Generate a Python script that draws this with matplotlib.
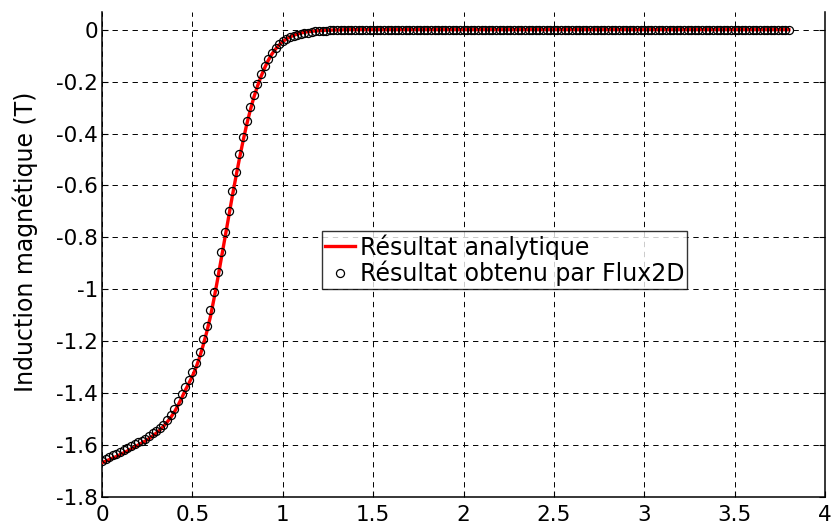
import numpy as np
import matplotlib
matplotlib.use("Agg")
import matplotlib.pyplot as plt

# x positions of samples (0 to 3.8 step 0.02)
x_vals = np.round(np.arange(0, 3.8001, 0.02), 2)

flux2d = [
    -1.660, -1.654, -1.647, -1.640, -1.634, -1.627, -1.620, -1.612, -1.604, -1.597,
    -1.590, -1.583, -1.575, -1.565, -1.555, -1.544, -1.533, -1.521, -1.503, -1.484,
    -1.460, -1.432, -1.404, -1.376, -1.350, -1.320, -1.285, -1.240, -1.193, -1.140,
    -1.080, -1.010, -0.935, -0.858, -0.780, -0.700, -0.622, -0.548, -0.478, -0.413,
    -0.352, -0.298, -0.250, -0.208, -0.172, -0.140, -0.113, -0.090, -0.072, -0.057,
    -0.045, -0.036, -0.029, -0.024, -0.020, -0.016, -0.013, -0.011, -0.009, -0.007,
    -0.006, -0.005, -0.004, -0.003, -0.002, -0.002, -0.001, -0.001, -0.001, 0.0,
    0.0, 0.0, 0.0, 0.0, 0.0, 0.0, 0.0, 0.0, 0.0, 0.0,
    0.0, 0.0, 0.0, 0.0, 0.0, 0.0, 0.0, 0.0, 0.0, 0.0,
    0.0, 0.0, 0.0, 0.0, 0.0, 0.0, 0.0, 0.0, 0.0, 0.0,
    0.0, 0.0, 0.0, 0.0, 0.0, 0.0, 0.0, 0.0, 0.0, 0.0,
    0.0, 0.0, 0.0, 0.0, 0.0, 0.0, 0.0, 0.0, 0.0, 0.0,
    0.0, 0.0, 0.0, 0.0, 0.0, 0.0, 0.0, 0.0, 0.0, 0.0,
    0.0, 0.0, 0.0, 0.0, 0.0, 0.0, 0.0, 0.0, 0.0, 0.0,
    0.0, 0.0, 0.0, 0.0, 0.0, 0.0, 0.0, 0.0, 0.0, 0.0,
    0.0, 0.0, 0.0, 0.0, 0.0, 0.0, 0.0, 0.0, 0.0, 0.0,
    0.0, 0.0, 0.0, 0.0, 0.0, 0.0, 0.0, 0.0, 0.0, 0.0,
    0.0, 0.0, 0.0, 0.0, 0.0, 0.0, 0.0, 0.0, 0.0, 0.0,
    0.0, 0.0, 0.0, 0.0, 0.0, 0.0, 0.0, 0.0, 0.0, 0.0,
    0.0,
]

analytic = [
    -1.668, -1.662, -1.656, -1.650, -1.644, -1.637, -1.630, -1.623, -1.615, -1.608,
    -1.600, -1.592, -1.584, -1.575, -1.565, -1.554, -1.542, -1.528, -1.512, -1.494,
    -1.473, -1.448, -1.420, -1.390, -1.363, -1.335, -1.302, -1.262, -1.215, -1.163,
    -1.105, -1.035, -0.960, -0.882, -0.804, -0.724, -0.645, -0.570, -0.498, -0.430,
    -0.367, -0.311, -0.261, -0.218, -0.180, -0.147, -0.118, -0.094, -0.075, -0.059,
    -0.046, -0.036, -0.028, -0.022, -0.017, -0.013, -0.010, -0.008, -0.006, -0.005,
    -0.004, -0.003, -0.002, -0.002, -0.001, -0.001, -0.001, 0.0, 0.0, 0.0,
    0.0, 0.0, 0.0, 0.0, 0.0, 0.0, 0.0, 0.0, 0.0, 0.0,
    0.0, 0.0, 0.0, 0.0, 0.0, 0.0, 0.0, 0.0, 0.0, 0.0,
    0.0, 0.0, 0.0, 0.0, 0.0, 0.0, 0.0, 0.0, 0.0, 0.0,
    0.0, 0.0, 0.0, 0.0, 0.0, 0.0, 0.0, 0.0, 0.0, 0.0,
    0.0, 0.0, 0.0, 0.0, 0.0, 0.0, 0.0, 0.0, 0.0, 0.0,
    0.0, 0.0, 0.0, 0.0, 0.0, 0.0, 0.0, 0.0, 0.0, 0.0,
    0.0, 0.0, 0.0, 0.0, 0.0, 0.0, 0.0, 0.0, 0.0, 0.0,
    0.0, 0.0, 0.0, 0.0, 0.0, 0.0, 0.0, 0.0, 0.0, 0.0,
    0.0, 0.0, 0.0, 0.0, 0.0, 0.0, 0.0, 0.0, 0.0, 0.0,
    0.0, 0.0, 0.0, 0.0, 0.0, 0.0, 0.0, 0.0, 0.0, 0.0,
    0.0, 0.0, 0.0, 0.0, 0.0, 0.0, 0.0, 0.0, 0.0, 0.0,
    0.0, 0.0, 0.0, 0.0, 0.0, 0.0, 0.0, 0.0, 0.0, 0.0,
    0.0,
]

xticks = [0, 0.5, 1, 1.5, 2, 2.5, 3, 3.5, 4]
xtick_labels = ["0", "0.5", "1", "1.5", "2", "2.5", "3", "3.5", "4"]
yticks = [0, -0.2, -0.4, -0.6, -0.8, -1.0, -1.2, -1.4, -1.6, -1.8]
ytick_labels = ["0", "-0.2", "-0.4", "-0.6", "-0.8", "-1", "-1.2", "-1.4", "-1.6", "-1.8"]

plt.rcParams['font.family'] = ['DejaVu Sans']

fig = plt.figure(figsize=(8.33, 5.32), dpi=100)
ax = fig.add_axes([102/833, 1 - 497/532, (825-102)/833, (497-12)/532])

ax.plot(x_vals, analytic, color='red', lw=2.4, label='Résultat analytique', zorder=3)
ax.plot(x_vals, flux2d, linestyle='none', marker='o', ms=5.8, mfc='none',
        mec='black', mew=0.9, label='Résultat obtenu par Flux2D', zorder=4)

ax.set_xlim(0, 4)
ax.set_ylim(-1.8, 0.068)
ax.set_xticks(xticks)
ax.set_xticklabels(xtick_labels)
ax.set_yticks(yticks)
ax.set_yticklabels(ytick_labels)

ax.grid(True, color='black', linestyle=(0, (5.5, 4.8)), linewidth=0.7)
ax.set_axisbelow(True)

ax.spines['top'].set_visible(False)
for s in ['left', 'bottom', 'right']:
    ax.spines[s].set_linewidth(1.1)
ax.tick_params(axis='both', direction='in', length=4, labelsize=15.5, width=0.8)
ax.tick_params(axis='x', pad=6)
ax.tick_params(axis='y', pad=3, right=True)

ax.set_ylabel('Induction magnétique (T)', fontsize=17)
ax.yaxis.set_label_coords(-0.088, 0.526)

leg = ax.legend(loc='upper left', bbox_to_anchor=(0.304, 0.548), borderaxespad=0,
                fontsize=17, frameon=True, fancybox=False, handlelength=1.3,
                handletextpad=0.2, borderpad=0.12, labelspacing=0.05)
leg.get_frame().set_edgecolor('black')
leg.get_frame().set_linewidth(1.0)

fig.savefig('out.png', dpi=100)
